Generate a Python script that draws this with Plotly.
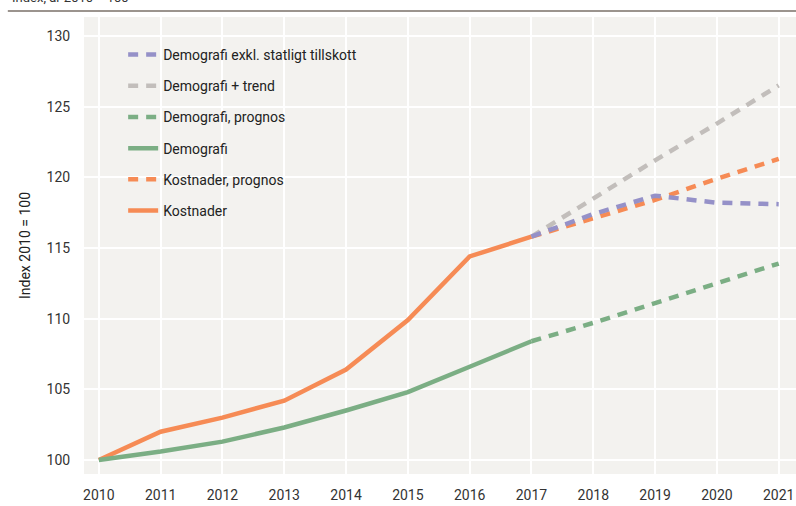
import plotly.graph_objects as go

years_hist = [2010, 2011, 2012, 2013, 2014, 2015, 2016, 2017]
years_prog = [2017, 2018, 2019, 2020, 2021]

kostnader = [100.0, 102.0, 103.0, 104.2, 106.4, 109.9, 114.4, 115.8]
demografi = [100.0, 100.6, 101.3, 102.3, 103.5, 104.8, 106.6, 108.4]
kostnader_prognos = [115.8, 117.1, 118.4, 119.9, 121.3]
demografi_prognos = [108.4, 109.7, 111.1, 112.5, 113.9]
demografi_trend = [115.8, 118.5, 121.2, 123.8, 126.5]
demografi_exkl = [115.8, 117.4, 118.7, 118.2, 118.1]

y_ticks = [100, 105, 110, 115, 120, 125, 130]
x_ticks = list(range(2010, 2022))

ORANGE = "#F68B55"
GREEN = "#7BAE84"
PURPLE = "#9591C8"
GRAY = "#C2BEBB"
DASH = "10px,8px"
LW = 4.5

fig = go.Figure()
series = [
    ("Kostnader", years_hist, kostnader, ORANGE, "solid", 6),
    ("Kostnader, prognos", years_prog, kostnader_prognos, ORANGE, DASH, 5),
    ("Demografi", years_hist, demografi, GREEN, "solid", 4),
    ("Demografi, prognos", years_prog, demografi_prognos, GREEN, DASH, 3),
    ("Demografi + trend", years_prog, demografi_trend, GRAY, DASH, 2),
    ("Demografi exkl. statligt tillskott", years_prog, demografi_exkl, PURPLE, DASH, 1),
]
for i, (name, xs, ys, col, dash, rank) in enumerate(series):
    fig.add_trace(go.Scatter(
        x=xs, y=ys, name=name, mode="lines", legendgroup=f"g{i}", legendrank=rank,
        line=dict(color=col, width=LW, dash=dash),
    ))

fig.update_layout(
    width=796, height=506,
    margin=dict(l=84, r=0, t=17, b=32),
    paper_bgcolor="white",
    plot_bgcolor="#F3F2EF",
    font=dict(family="Roboto, 'Open Sans', sans-serif", size=14, color="#333333"),
    showlegend=True,
    legend=dict(
        x=0.055, y=0.952, xanchor="left", yanchor="top",
        bgcolor="rgba(0,0,0,0)", borderwidth=0,
        traceorder="grouped", tracegroupgap=10,
        font=dict(size=14, color="#222222"),
        itemwidth=30,
    ),
    xaxis=dict(
        range=[2009.76, 2021.28], tickvals=x_ticks, ticktext=[str(v) for v in x_ticks],
        showgrid=True, gridcolor="white", gridwidth=2, zeroline=False,
        ticks="outside", ticklen=8, tickcolor="rgba(0,0,0,0)",
        tickfont=dict(size=14, color="#333333"), showline=False,
    ),
    yaxis=dict(
        range=[99.01, 131.34], tickvals=y_ticks, ticktext=[str(v) for v in y_ticks],
        showgrid=True, gridcolor="white", gridwidth=2, zeroline=False,
        ticks="outside", ticklen=10, tickcolor="rgba(0,0,0,0)",
        tickfont=dict(size=14, color="#333333"), showline=False,
        title=dict(text="Index 2010 = 100", font=dict(size=14, color="#222222"), standoff=12),
    ),
)

fig.add_shape(type="line", xref="paper", yref="paper",
              x0=-0.107, x1=1.0, y0=1.0131, y1=1.0131,
              line=dict(color="#9B948E", width=2))
fig.add_annotation(text="Index, år 2010 = 100", xref="paper", yref="paper",
                   x=-0.104, y=1.021, xanchor="left", yanchor="bottom",
                   showarrow=False, font=dict(size=13, color="#333333"))

fig.write_html("out.html", config={"displayModeBar": False},
               post_script="document.body.style.margin='0';document.body.style.overflow='hidden';")
